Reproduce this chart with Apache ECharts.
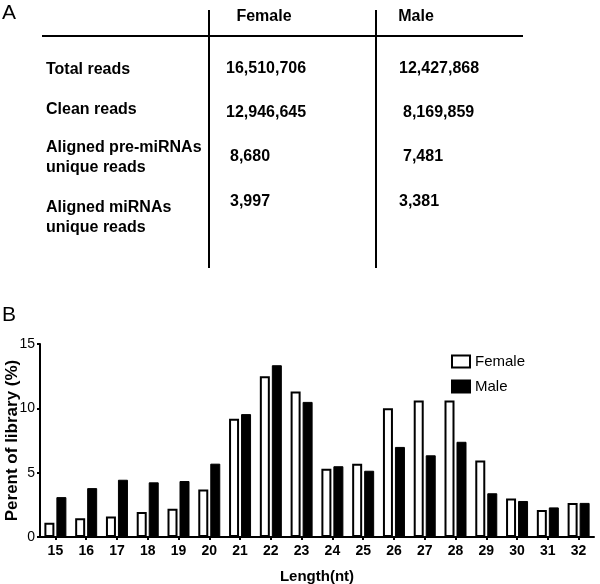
<!DOCTYPE html>
<html>
<head>
<meta charset="utf-8">
<script src="https://cdn.jsdelivr.net/npm/echarts@6/dist/echarts.min.js"></script>
<style>
html,body{margin:0;padding:0;background:#fff;}
#main{width:600px;height:584px;}
</style>
</head>
<body>
<div id="main"></div>
<script>
// table (panel A)
var colNames = ['Female', 'Male'];
var rowLabels = [['Total reads'], ['Clean reads'], ['Aligned pre-miRNAs', 'unique reads'], ['Aligned miRNAs', 'unique reads']];
var femaleReads = ['16,510,706', '12,946,645', '8,680', '3,997'];
var maleReads = ['12,427,868', '8,169,859', '7,481', '3,381'];

// bar chart (panel B)
var lengths = ['15','16','17','18','19','20','21','22','23','24','25','26','27','28','29','30','31','32'];
var female = [1.1, 1.45, 1.6, 1.95, 2.2, 3.7, 9.2, 12.5, 11.3, 5.3, 5.7, 10.0, 10.6, 10.6, 5.95, 3.0, 2.1, 2.65];
var male = [3.1, 3.8, 4.45, 4.25, 4.35, 5.7, 9.55, 13.35, 10.5, 5.5, 5.15, 7.0, 6.35, 7.4, 3.4, 2.8, 2.3, 2.65];
var yTicks = [0, 15, 5];

var sans = "Arial, 'Liberation Sans', sans-serif";

var myChart = echarts.init(document.getElementById('main'));

// graphic elements for the table
var G = [];
G.push({type:'text', left:2, top:3, style:{text:'A', font:'21px ' + sans, fill:'#000'}});
G.push({type:'text', left:2, top:305, style:{text:'B', font:'21px ' + sans, fill:'#000'}});
// lines
G.push({type:'line', shape:{x1:42, y1:36, x2:523, y2:36}, style:{stroke:'#000', lineWidth:2}});
G.push({type:'line', shape:{x1:209, y1:10, x2:209, y2:268}, style:{stroke:'#000', lineWidth:2}});
G.push({type:'line', shape:{x1:376, y1:10, x2:376, y2:268}, style:{stroke:'#000', lineWidth:2}});
// headers
var headX = [264, 416];
for (var i = 0; i < colNames.length; i++) {
  G.push({type:'text', x:headX[i], y:17, style:{text:colNames[i], font:'bold 16px ' + sans, fill:'#000', align:'center', verticalAlign:'middle'}});
}
var labelY = [[70], [110], [148, 168], [208, 228]];
for (var i = 0; i < rowLabels.length; i++) {
  for (var j = 0; j < rowLabels[i].length; j++) {
    G.push({type:'text', x:46, y:labelY[i][j], style:{text:rowLabels[i][j], font:'bold 16px ' + sans, fill:'#000', verticalAlign:'middle'}});
  }
}
var valY = [69, 113, 157, 202];
var femX = [226, 226, 230, 230];
var maleX = [399, 403, 403, 399];
for (var i = 0; i < femaleReads.length; i++) {
  G.push({type:'text', x:femX[i], y:valY[i], style:{text:femaleReads[i], font:'bold 16px ' + sans, fill:'#000', verticalAlign:'middle'}});
  G.push({type:'text', x:maleX[i], y:valY[i], style:{text:maleReads[i], font:'bold 16px ' + sans, fill:'#000', verticalAlign:'middle'}});
}

option = {
  backgroundColor: '#fff',
  animation: false,
  graphic: G,
  legend: {
    orient: 'vertical',
    left: 446, top: 349,
    itemWidth: 18, itemHeight: 12, itemGap: 10,
    icon: 'rect',
    textStyle: {fontSize: 15, color: '#000', fontFamily: sans},
    data: ['Female', 'Male']
  },
  grid: {left: 40, right: 6, top: 344, bottom: 47, containLabel: false, outerBoundsMode: 'none'},
  xAxis: {
    type: 'category',
    data: lengths,
    name: 'Length(nt)',
    nameLocation: 'middle',
    nameGap: 32,
    nameMoveOverlap: false,
    nameTextStyle: {fontSize: 15, fontWeight: 'bold', color: '#000', fontFamily: sans},
    axisLine: {lineStyle: {color: '#000', width: 2}},
    axisTick: {show: true, alignWithLabel: true, length: 3, lineStyle: {color: '#000', width: 2}},
    axisLabel: {fontSize: 14, fontWeight: 'bold', color: '#000', margin: 7, fontFamily: sans}
  },
  yAxis: {
    type: 'value',
    min: yTicks[0], max: yTicks[1], interval: yTicks[2],
    name: 'Perent of library (%)',
    nameLocation: 'middle',
    nameRotate: 90,
    nameGap: 19,
    nameMoveOverlap: false,
    nameTextStyle: {fontSize: 17, fontWeight: 'bold', color: '#000', fontFamily: sans},
    axisLine: {show: true, lineStyle: {color: '#000', width: 2}},
    axisTick: {show: true, length: 3, lineStyle: {color: '#000', width: 2}},
    splitLine: {show: false},
    axisLabel: {fontSize: 14, color: '#000', margin: 5, fontFamily: sans}
  },
  series: [
    {
      name: 'Female', type: 'bar', data: female,
      barWidth: 10, barGap: '20%',
      itemStyle: {color: '#fff', borderColor: '#000', borderWidth: 2}
    },
    {
      name: 'Male', type: 'bar', data: male,
      barWidth: 10,
      itemStyle: {color: '#000', borderColor: '#000', borderWidth: 1}
    }
  ]
};
myChart.setOption(option);
</script>
</body>
</html>
